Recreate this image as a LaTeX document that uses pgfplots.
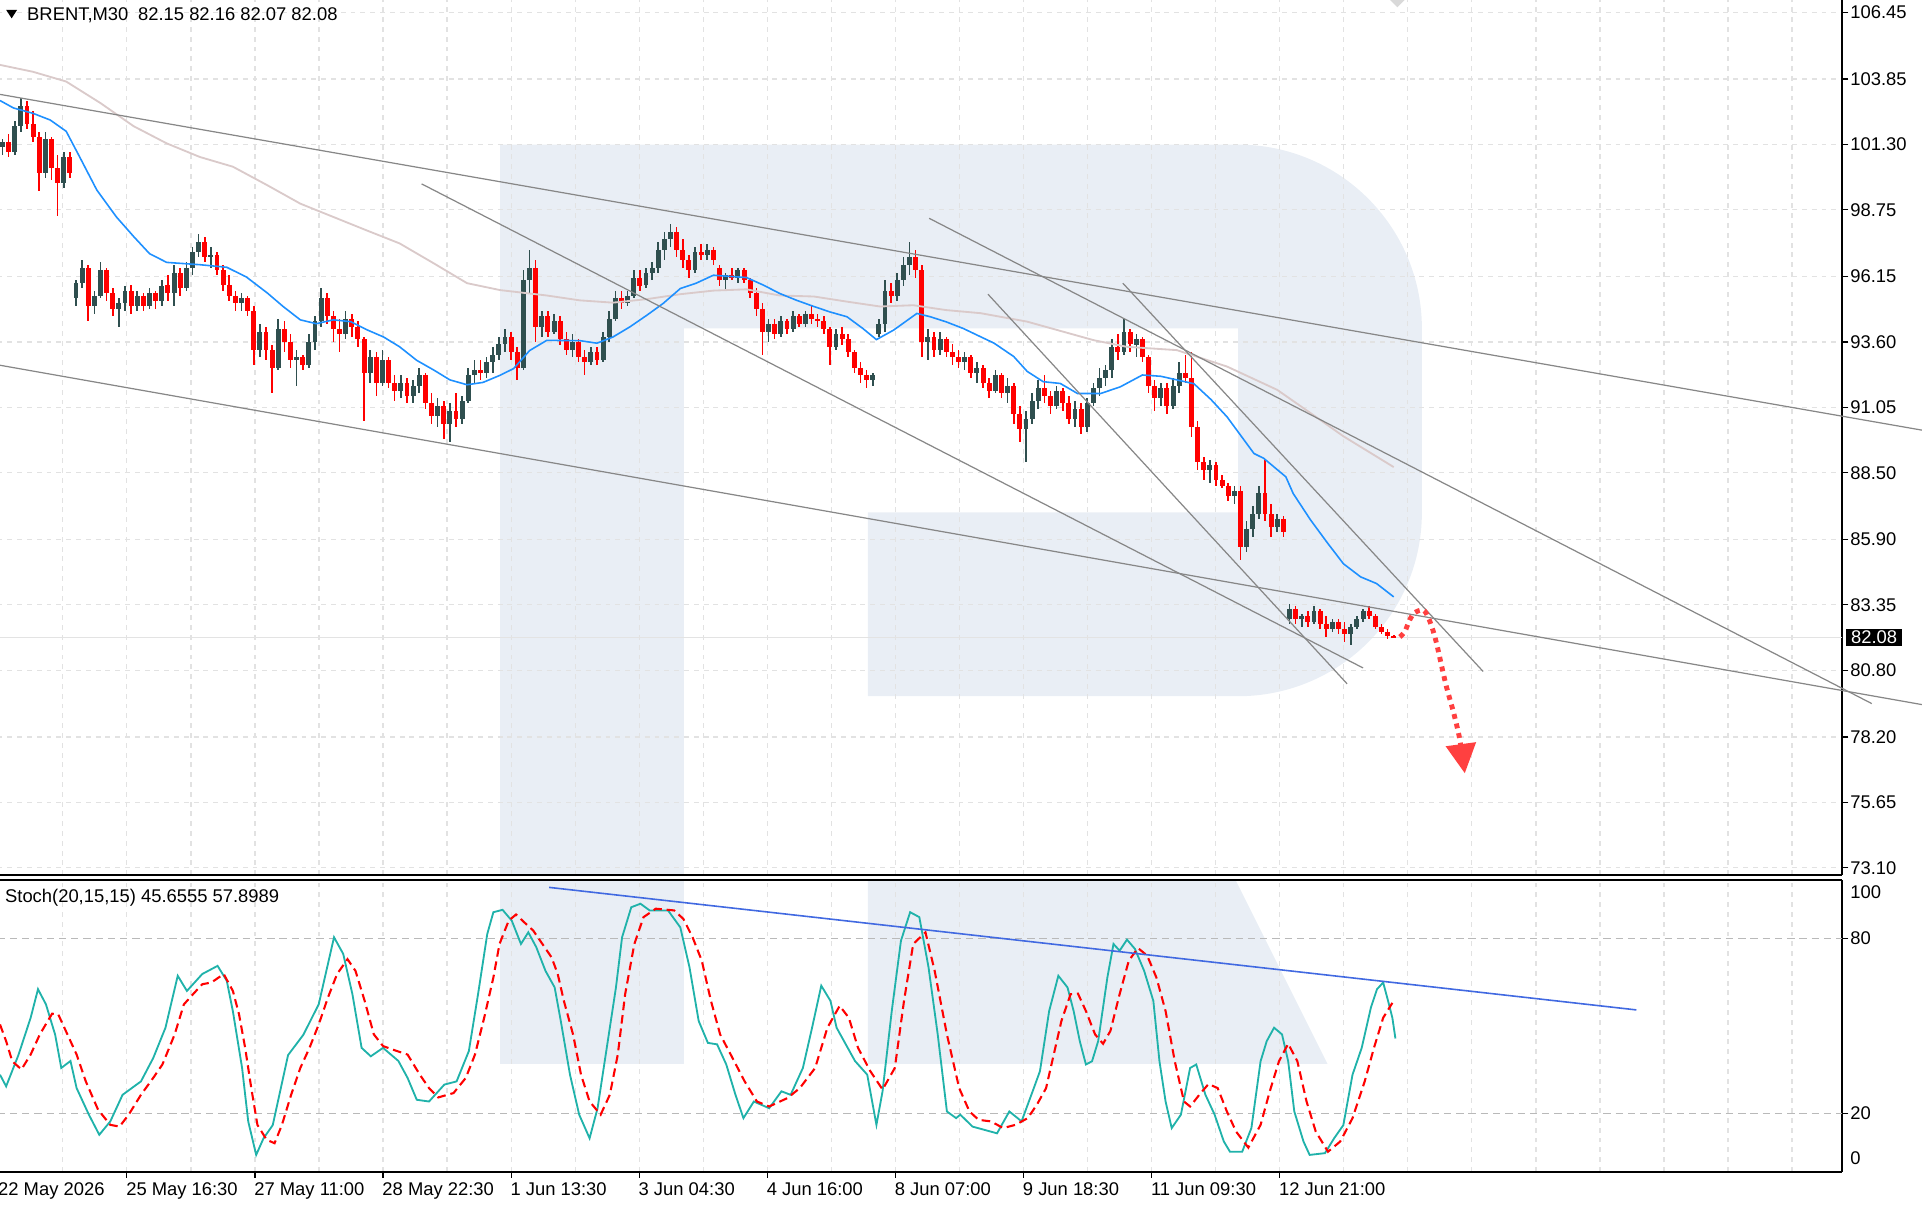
\documentclass[border=0pt]{standalone}
\usepackage{pgfplots}
\pgfplotsset{compat=1.18}
\usepackage{pgfplotstable}
\usetikzlibrary{arrows.meta}
\usepackage{fontspec}
\setmainfont{Liberation Sans}
\newcommand\fs{\fontsize{15}{18}\selectfont}
\definecolor{bullc}{RGB}{47,79,79}
\definecolor{bearc}{RGB}{255,0,0}
\definecolor{maBlue}{RGB}{30,144,255}
\definecolor{maPink}{RGB}{218,202,202}
\definecolor{trendc}{RGB}{135,135,135}
\definecolor{stK}{RGB}{32,178,170}
\definecolor{stLine}{RGB}{65,105,225}
\definecolor{gridc}{RGB}{226,226,226}
\definecolor{wm}{RGB}{233,238,245}
\definecolor{fc}{RGB}{255,64,64}
\definecolor{lvl}{RGB}{185,185,185}

\pgfplotstableread{
x o h l c
2 101.2 101.5 100.9 101.4
12 101.0 102.2 100.9 102.0
17 102.0 103.1 101.8 102.8
37 100.2 101.8 100.0 101.5
52 99.8 101.0 99.6 100.8
62 95.3 96.0 95.0 95.9
67 95.9 96.8 95.7 96.5
77 95.0 95.6 94.7 95.4
82 95.4 96.7 95.3 96.4
97 94.9 95.3 94.2 95.1
102 95.1 95.8 94.8 95.6
112 95.0 95.6 94.8 95.4
122 95.0 95.7 94.9 95.5
132 95.2 96.0 95.0 95.8
142 95.5 96.6 95.0 96.3
152 95.7 96.7 95.6 96.5
157 96.5 97.3 96.2 97.1
162 97.1 97.8 96.9 97.5
172 96.9 97.3 96.5 97.0
197 95.1 95.5 94.8 95.3
212 93.3 94.3 93.0 94.0
227 92.6 94.5 92.5 94.1
242 92.9 93.3 91.9 93.0
252 92.7 93.9 92.6 93.6
257 93.6 94.6 93.3 94.4
262 94.4 95.7 94.2 95.3
282 93.9 94.8 93.7 94.5
302 92.4 93.3 92.0 93.0
312 92.0 93.3 91.9 92.9
327 91.7 92.3 91.4 92.0
337 91.5 92.1 91.2 91.9
342 91.9 92.6 91.6 92.3
357 90.7 91.4 90.3 91.1
367 90.4 91.2 89.7 90.9
377 90.6 91.5 90.4 91.3
382 91.3 92.6 91.2 92.3
387 92.3 92.9 92.0 92.5
397 92.4 93.0 92.2 92.8
402 92.8 93.4 92.4 93.1
407 93.1 93.8 92.9 93.5
412 93.5 94.1 93.2 93.8
427 92.6 96.4 92.5 96.0
432 96.0 97.2 95.5 96.5
442 94.2 94.8 93.8 94.6
452 94.0 94.7 93.9 94.4
467 93.3 93.9 93.0 93.6
482 92.8 93.4 92.7 93.2
492 92.9 94.0 92.8 93.8
497 93.8 94.8 93.6 94.5
502 94.5 95.6 94.4 95.3
512 95.1 95.6 95.0 95.4
517 95.4 96.4 95.3 96.1
527 95.8 96.5 95.7 96.3
532 96.3 96.7 96.0 96.5
537 96.5 97.5 96.3 97.2
542 97.2 97.9 96.8 97.6
547 97.6 98.2 97.3 97.9
567 96.4 97.3 96.3 97.1
577 97.0 97.4 96.8 97.2
592 96.0 96.3 95.6 96.2
602 96.1 96.5 95.9 96.4
627 94.0 94.5 93.6 94.3
637 93.9 94.6 93.8 94.4
647 94.1 94.8 94.0 94.6
657 94.3 94.8 94.2 94.7
682 93.4 94.1 93.3 93.9
712 92.1 92.4 91.9 92.3
717 93.9 94.5 93.8 94.3
722 94.3 96.0 94.0 95.6
732 95.4 96.3 95.2 96.0
737 96.0 96.9 95.8 96.6
742 96.6 97.5 96.2 96.9
757 93.6 94.1 92.9 93.8
767 93.3 94.0 93.1 93.7
787 92.8 93.2 92.5 93.0
797 92.4 92.8 92.0 92.6
812 91.7 92.5 91.6 92.3
822 91.6 92.2 91.2 91.9
837 90.2 90.9 88.9 90.6
842 90.6 91.6 90.4 91.3
847 91.3 92.1 91.0 91.8
862 91.1 91.9 91.0 91.7
877 90.6 91.3 90.3 91.0
887 90.3 91.4 90.1 91.2
892 91.2 92.0 91.1 91.8
897 91.8 92.6 91.5 92.2
902 92.2 92.7 91.9 92.5
907 92.5 93.7 92.2 93.4
917 93.2 94.5 93.1 94.0
927 93.5 93.9 93.0 93.7
947 91.4 92.0 91.1 91.8
957 91.1 92.2 91.0 91.9
962 91.9 92.8 91.6 92.4
987 88.6 89.0 88.1 88.8
1007 87.6 88.0 87.3 87.8
1017 85.6 86.6 85.4 86.3
1022 86.3 87.2 86.0 86.9
1027 86.9 88.0 86.7 87.7
1042 86.4 86.9 86.2 86.7
1052 82.8 83.4 82.6 83.2
1062 82.8 83.0 82.5 82.9
1072 82.7 83.3 82.6 83.1
1087 82.4 82.8 82.3 82.7
1102 82.2 82.6 81.8 82.5
1107 82.5 82.9 82.4 82.8
1112 82.8 83.2 82.7 83.1
}\bull

\pgfplotstableread{
x o h l c
7 101.4 101.7 100.8 101.0
22 102.8 103.0 101.9 102.1
27 102.1 102.6 101.4 101.6
32 101.6 101.8 99.5 100.2
42 101.5 101.6 99.9 100.4
47 100.4 100.9 98.5 99.8
57 100.8 101.0 100.0 100.2
72 96.5 96.6 94.4 95.0
87 96.4 96.5 95.2 95.5
92 95.5 95.7 94.6 94.9
107 95.6 95.8 94.7 95.0
117 95.4 95.5 94.8 95.0
127 95.5 95.6 94.9 95.2
137 95.8 96.2 95.2 95.5
147 96.3 96.5 95.4 95.7
167 97.5 97.7 96.7 96.9
177 97.0 97.1 96.2 96.4
182 96.4 96.6 95.6 95.8
187 95.8 96.2 95.2 95.4
192 95.4 95.6 94.8 95.1
202 95.3 95.4 94.6 94.8
207 94.8 95.0 92.7 93.3
217 94.0 94.2 92.9 93.3
222 93.3 93.5 91.6 92.6
232 94.1 94.4 93.2 93.6
237 93.6 93.9 92.6 92.9
247 93.0 93.1 92.5 92.7
267 95.3 95.5 94.3 94.6
272 94.6 94.8 93.6 94.1
277 94.1 94.5 93.2 93.9
287 94.5 94.7 93.8 94.2
292 94.2 94.4 93.4 93.7
297 93.7 93.8 90.5 92.4
307 93.0 93.2 91.5 92.0
317 92.9 93.0 91.8 92.0
322 92.0 92.3 91.3 91.7
332 92.0 92.2 91.2 91.5
347 92.3 92.4 91.0 91.2
352 91.2 91.6 90.4 90.7
362 91.1 91.3 89.8 90.4
372 90.9 91.6 90.3 90.6
392 92.5 92.9 92.1 92.4
417 93.8 94.0 92.9 93.2
422 93.2 93.4 92.1 92.6
437 96.5 96.8 93.6 94.2
447 94.6 94.8 93.8 94.0
457 94.4 94.6 93.5 93.7
462 93.7 94.0 93.1 93.3
472 93.6 93.7 92.8 93.0
477 93.0 93.3 92.3 92.8
487 93.2 93.4 92.7 92.9
507 95.3 95.6 94.9 95.1
522 96.1 96.4 95.6 95.8
552 97.9 98.1 96.9 97.2
557 97.2 97.6 96.5 96.8
562 96.8 97.0 96.1 96.4
572 97.1 97.4 96.8 97.0
582 97.2 97.3 96.6 96.8
587 96.5 96.6 95.8 96.0
597 96.2 96.5 96.0 96.1
607 96.4 96.5 95.9 96.0
612 96.0 96.1 95.3 95.5
617 95.5 95.7 94.6 94.9
622 94.9 95.1 93.1 94.0
632 94.3 94.5 93.7 93.9
642 94.4 94.5 93.9 94.1
652 94.6 94.7 94.2 94.3
662 94.7 95.0 94.3 94.5
667 94.5 94.7 94.2 94.4
672 94.4 94.6 93.9 94.1
677 94.1 94.2 92.7 93.4
687 93.9 94.2 93.5 93.7
692 93.7 93.9 93.0 93.2
697 93.2 93.3 92.4 92.6
702 92.6 92.8 92.0 92.3
707 92.3 92.5 91.8 92.1
727 95.6 95.9 95.1 95.4
747 96.9 97.2 96.1 96.4
752 96.4 96.6 93.0 93.6
762 93.8 94.0 93.0 93.3
772 93.7 93.8 93.0 93.2
777 93.2 93.5 92.7 93.0
782 93.0 93.3 92.6 92.8
792 93.0 93.1 92.2 92.4
802 92.6 92.7 91.8 92.0
807 92.0 92.2 91.4 91.7
817 92.3 92.4 91.4 91.6
827 91.9 92.0 90.4 90.8
832 90.8 91.1 89.7 90.2
852 91.8 92.3 91.2 91.5
857 91.5 91.7 90.8 91.1
867 91.7 91.8 90.9 91.2
872 91.2 91.5 90.4 90.6
882 91.0 91.2 90.0 90.3
912 93.4 93.9 92.9 93.2
922 94.0 94.1 93.2 93.5
932 93.7 93.8 92.8 93.0
937 93.0 93.1 91.6 91.9
942 91.9 92.1 90.9 91.4
952 91.8 92.0 90.8 91.1
967 92.4 93.1 92.0 92.2
972 92.2 93.2 89.9 90.3
977 90.3 90.5 88.6 88.9
982 88.9 89.1 88.2 88.6
992 88.8 88.9 88.0 88.2
997 88.2 88.4 87.9 88.0
1002 88.0 88.1 87.4 87.6
1012 87.8 88.0 85.1 85.6
1032 87.7 89.0 86.6 86.9
1037 86.9 87.3 86.0 86.4
1047 86.7 86.8 86.0 86.2
1057 83.2 83.3 82.6 82.8
1067 82.9 83.1 82.5 82.7
1077 83.1 83.2 82.4 82.6
1082 82.6 82.9 82.1 82.4
1092 82.7 82.8 82.2 82.4
1097 82.4 82.7 81.9 82.2
1117 83.1 83.3 82.8 82.9
1122 82.9 83.0 82.4 82.5
1127 82.5 82.6 82.2 82.3
1132 82.3 82.4 82.0 82.15
1137 82.15 82.16 82.07 82.08
}\bear

\pgfplotsset{
  mtbase/.style={
    scale only axis, width=1505pt, xmin=-2, xmax=1503, clip=false,
    axis x line*=bottom, axis y line*=right,
    axis line style={line width=1.6pt, black, -},
    xtick={-1,103.5,208,312.5,417,521.5,626,730.5,835,939.5,1044},
    minor xtick={51.25,155.75,260.25,364.75,469.25,573.75,678.25,782.75,887.25,991.75,1096.25,1148.5,1200.75,1253,1305.25,1357.5,1409.75,1462},
    tick align=outside, major tick length=5pt, minor tick length=0pt,
    tick style={black, line width=1pt},
    xmajorgrids, xminorgrids,
    major grid style={gridc, line width=1pt, dash pattern=on 4pt off 4pt},
    minor grid style={gridc, line width=1pt, dash pattern=on 4pt off 4pt},
    yticklabel style={font=\fs, xshift=-2pt},
  },
  wick/.style={only marks, mark=*, mark size=0pt, mark options={draw=none, fill=none}, forget plot, error bars/.cd, y dir=both, y explicit, error mark=none, error bar style={line width=1.3pt, draw=#1}},
  body/.style={only marks, mark=*, mark size=0pt, mark options={draw=none, fill=none}, forget plot, error bars/.cd, y dir=both, y explicit, error mark=none, error bar style={line width=4pt, draw=#1}},
}

\begin{document}
\begin{tikzpicture}
\path[use as bounding box] (0pt,0pt) rectangle (1568pt,987pt);
% watermark, price panel part
\fill[wm] (408pt,869pt) -- (1010pt,869pt) arc[start angle=90,end angle=0,radius=150pt] -- (1160pt,569pt) arc[start angle=0,end angle=-90,radius=150pt] -- (708pt,419pt) -- (708pt,569pt) -- (1010pt,569pt) -- (1010pt,719pt) -- (558pt,719pt) -- (558pt,273pt) -- (408pt,273pt) -- cycle;
% watermark, indicator panel part
\fill[wm] (408pt,269pt) rectangle (558pt,119pt);
\fill[wm] (708pt,269pt) -- (1008pt,269pt) -- (1083pt,119pt) -- (708pt,119pt) -- cycle;

% ---------------- price panel
\begin{axis}[mtbase,
  at={(-2pt,273pt)}, anchor=south west, height=714pt,
  ymin=72.81, ymax=106.93,
  xticklabels={}, xtick style={draw=none},
  ytick={73.10,75.65,78.20,80.80,83.35,85.90,88.50,91.05,93.60,96.15,98.75,101.30,103.85,106.45},
  yticklabels={73.10,75.65,78.20,80.80,83.35,85.90,88.50,91.05,93.60,96.15,98.75,101.30,103.85,106.45},
  ymajorgrids,
]
\addplot[gray!22, line width=1pt, forget plot] coordinates {(-2,82.08) (1503,82.08)};
% candles
\addplot[wick=bullc] table[x=x, y expr={(\thisrow{h}+\thisrow{l})/2}, y error expr={(\thisrow{h}-\thisrow{l})/2}] {\bull};
\addplot[body=bullc] table[x=x, y expr={(\thisrow{o}+\thisrow{c})/2}, y error expr={abs(\thisrow{c}-\thisrow{o})/2}] {\bull};
\addplot[wick=bearc] table[x=x, y expr={(\thisrow{h}+\thisrow{l})/2}, y error expr={(\thisrow{h}-\thisrow{l})/2}] {\bear};
\addplot[body=bearc] table[x=x, y expr={(\thisrow{o}+\thisrow{c})/2}, y error expr={abs(\thisrow{c}-\thisrow{o})/2}] {\bear};
% moving averages
\addplot[maPink, line width=1.5pt] coordinates {(0,104.40) (27,104.13) (54,103.75) (82,102.91) (109,102.01) (136,101.34) (163,100.81) (190,100.43) (218,99.71) (245,98.99) (272,98.47) (299,97.95) (326,97.44) (354,96.66) (381,95.89) (408,95.62) (446,95.41) (473,95.22) (500,95.13) (528,95.27) (555,95.46) (582,95.60) (609,95.65) (636,95.41) (664,95.37) (691,95.17) (718,94.98) (745,95.03) (772,94.84) (800,94.72) (838,94.39) (892,93.67) (919,93.41) (960,93.28) (1001,92.64) (1042,91.73) (1069,90.83) (1096,89.92) (1137,88.72)};
\addplot[maBlue, line width=1.3pt] coordinates {(0,103.01) (11,102.72) (27,102.51) (41,102.25) (54,101.81) (65,100.81) (79,99.52) (95,98.47) (109,97.71) (122,97.04) (136,96.70) (163,96.61) (185,96.51) (201,96.13) (218,95.51) (231,94.98) (245,94.46) (258,94.31) (272,94.46) (286,94.39) (299,94.08) (313,93.79) (326,93.41) (340,92.88) (354,92.50) (367,92.12) (381,91.93) (394,92.02) (408,92.30) (419,92.56) (432,93.26) (446,93.66) (473,93.65) (487,93.55) (500,93.79) (514,94.19) (528,94.65) (541,95.10) (555,95.68) (568,95.89) (582,96.20) (609,96.11) (623,95.81) (636,95.49) (650,95.22) (664,94.98) (677,94.77) (691,94.58) (704,94.12) (715,93.69) (729,94.06) (748,94.71) (759,94.58) (772,94.38) (786,94.12) (800,93.80) (811,93.55) (827,93.03) (838,92.45) (851,92.05) (865,91.98) (879,91.59) (898,91.59) (914,91.85) (932,92.31) (947,92.26) (960,92.12) (974,91.97) (988,91.35) (1001,90.68) (1015,89.77) (1023,89.25) (1031,89.06) (1049,88.34) (1055,87.69) (1069,86.67) (1083,85.76) (1096,84.95) (1110,84.44) (1123,84.18) (1137,83.66)};
% trend lines
\addplot[trendc, line width=1pt] coordinates {(0,103.25) (1568,90.16)};
\addplot[trendc, line width=1pt] coordinates {(0,92.69) (1568,79.46)};
\addplot[trendc, line width=1pt] coordinates {(344,99.76) (1112,80.89)};
\addplot[trendc, line width=1pt] coordinates {(806,95.46) (1099,80.27)};
\addplot[trendc, line width=1pt] coordinates {(758,98.42) (1527,79.50)};
\addplot[trendc, line width=1pt] coordinates {(916,95.89) (1210,80.75)};
% forecast
\addplot[fc, line width=4pt, dash pattern=on 4pt off 4pt, smooth, tension=0.5, -{Triangle[length=24pt,width=24pt]}] coordinates {(1142,82.10) (1146,82.30) (1150,82.76) (1154,83.04) (1161,83.15) (1165,82.88) (1169,82.36) (1172,81.84) (1175,81.20) (1180,80.16) (1186,79.12) (1191,78.08) (1195,76.78)};
\node[fill=black, text=white, font=\fs, anchor=west, inner xsep=4pt, inner ysep=1.5pt, xshift=3pt] at (axis cs:1503,82.08) {82.08};
\end{axis}

% ---------------- stochastic panel
\begin{axis}[mtbase,
  at={(-2pt,31pt)}, anchor=south west, height=238pt,
  ymin=0, ymax=100,
  xticklabels={22 May 2026, 25 May 16:30, 27 May 11:00, 28 May 22:30, 1 Jun 13:30, 3 Jun 04:30, 4 Jun 16:00, 8 Jun 07:00, 9 Jun 18:30, 11 Jun 09:30, 12 Jun 21:00},
  xticklabel style={font=\fs, anchor=north west, xshift=-4pt},
  ytick={20,80}, yticklabels={20,80},
]
\addplot[lvl, line width=1.5pt, dash pattern=on 6pt off 4pt, forget plot] coordinates {(-2,80) (1503,80)};
\addplot[lvl, line width=1.5pt, dash pattern=on 6pt off 4pt, forget plot] coordinates {(-2,20) (1503,20)};
\draw[line width=1.6pt] (rel axis cs:0,1) -- (rel axis cs:1,1);
\addplot[stK, line width=1.5pt] coordinates {(0,33.3) (5,29.3) (15,40) (25,52.8) (31,62.6) (37.5,57.4) (45,47) (50,35.6) (57.5,38) (62.5,28.7) (72.5,19.6) (81,12.7) (90,17.3) (100,26.4) (115,31) (125,39) (135,49.4) (145,67.2) (152.5,62) (165,67.8) (177.5,70.6) (185,65.5) (190,55) (197.5,35.6) (202.5,17.3) (209,5.8) (215,11.5) (222.5,16) (235,40) (247.5,47) (260,57.4) (272.5,80.4) (280,74.7) (287.5,60.9) (295,42.5) (302.5,39.6) (312.5,42.5) (325,38) (332.5,32.2) (340,24.7) (350,24.1) (362.5,29.9) (372.5,31) (382.5,41.4) (390,60.9) (397.5,81.5) (402.5,89) (410,89.8) (417.5,86.1) (425,78.1) (431,82.1) (437.5,77) (445,68.9) (452.5,63.2) (457.5,51.7) (465,33.3) (472.5,19.6) (481,11.5) (487.5,21.8) (495,42.5) (502.5,63.2) (507.5,80.4) (515,90.7) (522.5,91.9) (530,89.6) (545,89.6) (555,83.8) (562.5,70.1) (570,51.7) (577.5,44.2) (585,43.7) (592.5,36.8) (600,26.4) (606.5,18.4) (615,24.1) (627.5,21.8) (637.5,27.6) (645,26.4) (655,35.6) (662.5,49.4) (670,63.8) (677.5,58.6) (682.5,49.4) (690,43.7) (697.5,38) (707.5,33.3) (715,16.1) (720,27.6) (727.5,55.1) (735,79.2) (742.5,89) (750,87.3) (757.5,70.1) (765,47.1) (772.5,20.7) (780,18.4) (783.4,19.6) (793.4,15.5) (813.4,13.2) (823.4,20.7) (833.4,17.3) (843.4,28.7) (848.4,34.5) (855.9,55.1) (863.4,67.2) (870.9,63.2) (875.9,55.1) (880.9,44.8) (885.9,36.8) (890.9,37.9) (895.9,44.8) (903.4,66.6) (908.4,78.1) (913.4,75.8) (919.4,79.6) (925.9,76.4) (933.4,68.9) (940.9,58.6) (945.9,37.9) (950.9,24.1) (955.9,15) (963.4,19.6) (970.9,35.6) (975.9,36.8) (983.4,26.4) (990.9,19.6) (998.4,10.4) (1003.4,6.9) (1013.4,6.9) (1020.9,15) (1028.4,37.9) (1033.4,44.8) (1039.4,49.4) (1045.9,47.1) (1050.9,37.9) (1055.9,20.7) (1063.4,10.4) (1068.4,5.8) (1080.9,6.4) (1088.4,11.5) (1095.9,16) (1103.4,33.3) (1110.9,42.5) (1118.4,56.3) (1123.4,62.6) (1128.4,64.9) (1132.4,58.6) (1135.9,52.8) (1138.4,45.7)};
\addplot[red, line width=1.7pt, dash pattern=on 7pt off 4pt] coordinates {(0,50.5) (5,44.8) (10,37.9) (17.5,35.1) (25,40.2) (32.5,47.1) (42.5,54.2) (47.5,54) (55,47.1) (62.5,40.2) (70,31) (80,21.3) (90,16.1) (97.5,15.5) (105,19.6) (115,26.4) (125,32.2) (132.5,36.8) (142.5,47.1) (150,57.4) (157.5,60.9) (165,64.3) (172.5,64.9) (182.5,67.8) (190,62) (195,54) (200,42.5) (205,28.7) (210,16.1) (217.5,11) (224,9.8) (230,16.1) (237.5,26.4) (245,35.6) (252.5,42.5) (260,50.5) (267.5,59.7) (275,67.8) (283.5,72.9) (290,68.9) (297.5,58.6) (305,47.1) (312.5,43.1) (322.5,41.6) (332.5,40.2) (342.5,33.3) (350,28.7) (357.5,25.5) (370,27) (380,32.2) (387.5,40.2) (395,52.8) (402.5,66.6) (407.5,78.1) (415,86.1) (421,88.2) (427.5,85.6) (435,82.7) (442.5,78.1) (450,73.5) (455,67.8) (460,58.6) (467.5,47.1) (474,33.3) (481,24.1) (490,19.6) (497.5,26.4) (504,40.2) (510,60.9) (517.5,78.1) (525,87.3) (535,90.2) (550,89.6) (557.5,86.7) (565,80.4) (572.5,72.4) (580,58.6) (587.5,47.1) (597.5,39.1) (607.5,31) (617.5,24.1) (627.5,22.4) (642.5,25.3) (652.5,28.7) (665,35.6) (675,49.4) (685,56.9) (692.5,52.8) (700,42.5) (710,34.5) (720,28.2) (730,35.6) (737.5,58.6) (745,78.1) (755,82.1) (762.5,68.9) (772.5,47.1) (782.5,28.7) (790.9,20.7) (798.4,17.8) (808.4,17.3) (818.4,15) (828.4,16.1) (838.4,18.4) (845.9,23) (853.4,28.7) (858.4,37.9) (865.9,51.7) (873.4,60.9) (879.4,61.1) (885.9,55.1) (893.4,47.1) (899.9,43.9) (905.9,48.3) (913.4,60.9) (920.9,72.4) (928.4,76.7) (935.9,74.1) (943.4,66.6) (950.9,55.1) (958.4,37.9) (965.9,24.1) (970.9,22.4) (978.4,26.4) (985.9,30.1) (993.4,28.7) (1000.9,20.7) (1008.4,13.8) (1018.4,8.3) (1028.4,16.1) (1035.9,27.6) (1043.4,37.9) (1050.9,43.9) (1058.4,37.9) (1065.9,24.1) (1073.4,13.8) (1083.4,6.9) (1093.4,10.4) (1103.4,18.4) (1113.4,31.1) (1120.9,42.5) (1128.4,52.8) (1135.9,57.9)};
\addplot[stLine, line width=1.3pt] coordinates {(448,97.5) (1335,55.5)};
\node[font=\fs, anchor=west] at (axis cs:1503,95.8) {\hspace{3pt}100};
\node[font=\fs, anchor=west] at (axis cs:1503,4.6) {\hspace{3pt}0};
\end{axis}

% titles
\fill (5pt,979pt) -- (14pt,979pt) -- (9.5pt,972pt) -- cycle;
\node[font=\fs, anchor=base west, inner sep=0pt] at (22pt,970pt) {BRENT,M30\hspace{8pt}82.15 82.16 82.07 82.08};
\node[font=\fs, anchor=base west, inner sep=0pt] at (4pt,250.5pt) {Stoch(20,15,15) 45.6555 57.8989};
\fill[gray!30] (1134pt,987pt) -- (1146pt,987pt) -- (1140pt,981pt) -- cycle;
\end{tikzpicture}
\end{document}
